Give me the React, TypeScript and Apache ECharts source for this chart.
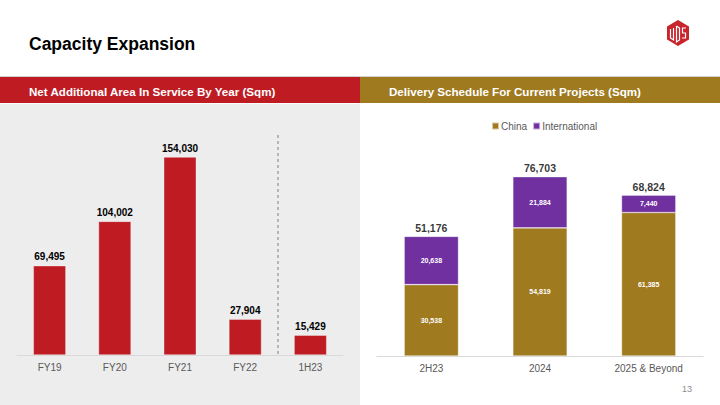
import React, { useEffect, useRef } from "react";
import * as echarts from "echarts";

const leftCategories = ["FY19", "FY20", "FY21", "FY22", "1H23"];
const leftValues = [69495, 104002, 154030, 27904, 15429];

const rightCategories = ["2H23", "2024", "2025 & Beyond"];
const chinaValues = [30538, 54819, 61385];
const internationalValues = [20638, 21884, 7440];
const totalValues = [51176, 76703, 68824];

const RED = "#BE1B23";
const GOLD = "#A07A1F";
const PURPLE = "#7030A0";
const FONT = "'Liberation Sans', Arial, sans-serif";

const fmt = (v: number) => v.toLocaleString("en-US");

export default function App() {
  const ref = useRef<HTMLDivElement>(null);
  useEffect(() => {
    if (!ref.current) return;
    const chart = echarts.init(ref.current, null, { renderer: "svg" });
    chart.setOption({
      animation: false,
      textStyle: { fontFamily: FONT },
      graphic: [
        { type: "rect", shape: { x: 0, y: 104, width: 360, height: 301 }, style: { fill: "#EDEDED" }, z: -10 },
        { type: "rect", shape: { x: 0, y: 76, width: 720, height: 1 }, style: { fill: "#D0D0D0" } },
        { type: "rect", shape: { x: 0, y: 77, width: 360, height: 26 }, style: { fill: RED } },
        { type: "rect", shape: { x: 360, y: 77, width: 360, height: 26 }, style: { fill: GOLD } },
        {
          type: "text", x: 29, y: 44,
          style: { text: "Capacity Expansion", fill: "#000", font: `bold 17.5px ${FONT}`, textVerticalAlign: "middle" },
        },
        {
          type: "text", x: 29, y: 91,
          style: { text: "Net Additional Area In Service By Year (Sqm)", fill: "#fff", font: `bold 11.6px ${FONT}`, textVerticalAlign: "middle" },
        },
        {
          type: "text", x: 389, y: 91,
          style: { text: "Delivery Schedule For Current Projects (Sqm)", fill: "#fff", font: `bold 11.6px ${FONT}`, textVerticalAlign: "middle" },
        },
        {
          type: "text", x: 692, y: 389,
          style: { text: "13", fill: "#8C8C8C", font: `9px ${FONT}`, textAlign: "right", textVerticalAlign: "middle" },
        },
        {
          type: "line", shape: { x1: 278, y1: 135, x2: 278, y2: 355 },
          style: { stroke: "#7F7F7F", lineWidth: 1, lineDash: [3, 3] },
        },
        // logo
        {
          type: "polygon",
          shape: { points: [[678, 20], [689, 26.5], [689, 39.5], [678, 46], [667, 39.5], [667, 26.5]] },
          style: { fill: "#C8242C" },
        },
        { type: "polyline", shape: { points: [[670.5, 29], [670.5, 38], [673.5, 40], [673.5, 28]] }, style: { stroke: "#fff", lineWidth: 1.2, fill: "none" } },
        { type: "polyline", shape: { points: [[676.5, 26], [676.5, 42], [679.5, 40], [679.5, 28], [676.5, 26]] }, style: { stroke: "#fff", lineWidth: 1.2, fill: "none" } },
        { type: "polyline", shape: { points: [[686, 28], [682.5, 28], [682.5, 33], [685.5, 33], [685.5, 38], [682, 38]] }, style: { stroke: "#fff", lineWidth: 1.2, fill: "none" } },
      ],
      legend: {
        data: ["China", "International"],
        left: 486,
        top: 116,
        icon: "rect",
        itemWidth: 7,
        itemHeight: 7,
        itemGap: 5,
        textStyle: { color: "#595959", fontSize: 10, fontFamily: FONT, padding: [0, 0, 0, -3] },
      },
      grid: [
        { left: 17, right: 377, top: 136.5, bottom: 50 },
        { left: 377, right: 17, top: 145.6, bottom: 49 },
      ],
      xAxis: [
        {
          type: "category", gridIndex: 0, data: leftCategories,
          axisLine: { lineStyle: { color: "#D9D9D9" } },
          axisTick: { lineStyle: { color: "#D9D9D9" }, length: 4 },
          axisLabel: { color: "#595959", fontSize: 10, margin: 7, fontFamily: FONT },
        },
        {
          type: "category", gridIndex: 1, data: rightCategories,
          axisLine: { lineStyle: { color: "#D9D9D9" } },
          axisTick: { lineStyle: { color: "#D9D9D9" }, length: 4 },
          axisLabel: { color: "#595959", fontSize: 10, margin: 7, fontFamily: FONT },
        },
      ],
      yAxis: [
        { type: "value", gridIndex: 0, min: 0, max: 170000, show: false, splitLine: { show: false } },
        { type: "value", gridIndex: 1, min: 0, max: 90000, show: false, splitLine: { show: false } },
      ],
      series: [
        {
          type: "bar", xAxisIndex: 0, yAxisIndex: 0, data: leftValues, barWidth: "50%",
          itemStyle: { color: RED, borderColor: "rgba(255,255,255,0.6)", borderWidth: 0.6 },
          label: {
            show: true, position: "top", distance: 4, color: "#000", fontWeight: "bold", fontSize: 10, fontFamily: FONT,
            formatter: (p: any) => fmt(p.value),
          },
        },
        {
          name: "China", type: "bar", xAxisIndex: 1, yAxisIndex: 1, stack: "s", data: chinaValues, barWidth: "50%",
          itemStyle: { color: GOLD, borderColor: "rgba(255,255,255,0.6)", borderWidth: 0.6 },
          label: {
            show: true, position: "inside", color: "#fff", fontWeight: "bold", fontSize: 7, fontFamily: FONT,
            formatter: (p: any) => fmt(p.value),
          },
        },
        {
          name: "International", type: "bar", xAxisIndex: 1, yAxisIndex: 1, stack: "s", data: internationalValues, barWidth: "50%",
          itemStyle: { color: PURPLE, borderColor: "rgba(255,255,255,0.6)", borderWidth: 0.6 },
          label: {
            show: true, position: "inside", color: "#fff", fontWeight: "bold", fontSize: 7, fontFamily: FONT,
            formatter: (p: any) => fmt(p.value),
          },
        },
        {
          name: "Total", type: "scatter", xAxisIndex: 1, yAxisIndex: 1, data: totalValues, symbolSize: 0,
          label: {
            show: true, position: "top", distance: 3, color: "#000", fontWeight: "bold", fontSize: 10.5, fontFamily: FONT,
            formatter: (p: any) => fmt(p.value),
          },
        },
      ],
    });
    return () => chart.dispose();
  }, []);
  return <div ref={ref} style={{ position: "fixed", left: 0, top: 0, width: 720, height: 405, background: "#fff" }} />;
}
